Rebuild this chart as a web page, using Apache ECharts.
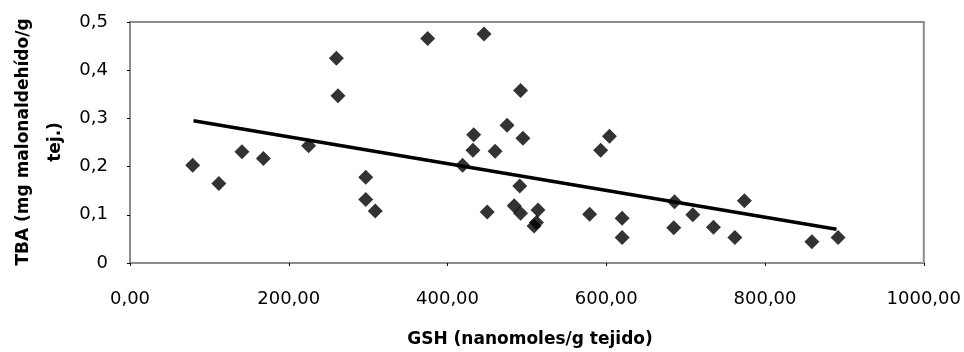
<!DOCTYPE html>
<html><head><meta charset="utf-8">
<script src="https://cdn.jsdelivr.net/npm/echarts@6/dist/echarts.min.js"></script>
<style>html,body{margin:0;padding:0;background:#fff}#c{width:964px;height:352px}</style>
</head><body><div id="c"></div>
<script>
// GSH (nanomoles/g tejido) values
var gsh = [79, 112, 141, 168, 225, 260, 262, 297, 297, 309,
  375, 446, 492, 475, 433, 495, 432, 460, 419, 491,
  450, 484, 492, 514, 512, 509, 579, 604, 593, 620,
  620, 686, 685, 709, 735, 762, 774, 859, 892];
// TBA (mg malonaldehído/g tej.) values
var tba = [0.203, 0.165, 0.231, 0.217, 0.243, 0.425, 0.347, 0.178, 0.132, 0.108,
  0.466, 0.475, 0.358, 0.286, 0.266, 0.259, 0.234, 0.232, 0.203, 0.160,
  0.106, 0.119, 0.103, 0.110, 0.084, 0.077, 0.101, 0.263, 0.234, 0.093,
  0.053, 0.127, 0.073, 0.100, 0.074, 0.053, 0.129, 0.044, 0.053];
// linear trend line end points
var trendX = [80, 890];
var trendY = [0.295, 0.070];
var xTicks = [0, 200, 400, 600, 800, 1000];
var yTicks = [0, 0.1, 0.2, 0.3, 0.4, 0.5];

var pts = gsh.map(function (g, i) { return [g, tba[i]]; });
var trend = trendX.map(function (g, i) { return [g, trendY[i]]; });
var FONT = 'DejaVu Sans';
var chart = echarts.init(document.getElementById('c'));
chart.setOption({
  animation: false,
  grid: { left: 130, right: 36, top: 22, bottom: 89, show: true, borderColor: '#8c8c8c', borderWidth: 2, backgroundColor: '#fff' },
  xAxis: {
    type: 'value', min: xTicks[0], max: xTicks[xTicks.length - 1], interval: 200,
    splitLine: { show: false }, axisLine: { show: false },
    axisTick: { show: true, length: 3, lineStyle: { color: '#000' } },
    axisLabel: { margin: 27, color: '#000', fontFamily: FONT, fontSize: 18,
      formatter: function (v) { return v.toFixed(2).replace('.', ','); } }
  },
  yAxis: {
    type: 'value', min: yTicks[0], max: yTicks[yTicks.length - 1], interval: 0.1,
    splitLine: { show: false }, axisLine: { show: false },
    axisTick: { show: true, length: 3, lineStyle: { color: '#000' } },
    axisLabel: { margin: 22, color: '#000', fontFamily: FONT, fontSize: 18,
      formatter: function (v) { return v === 0 ? '0' : v.toFixed(1).replace('.', ','); } }
  },
  graphic: [
    { type: 'text', x: 24, y: 142, rotation: Math.PI / 2,
      style: { text: 'TBA (mg malonaldehído/g', fontFamily: FONT, fontWeight: 'bold', fontSize: 17, fill: '#000', align: 'center', verticalAlign: 'middle' } },
    { type: 'text', x: 56, y: 142, rotation: Math.PI / 2,
      style: { text: 'tej.)', fontFamily: FONT, fontWeight: 'bold', fontSize: 17, fill: '#000', align: 'center', verticalAlign: 'middle' } },
    { type: 'text', x: 530, y: 340,
      style: { text: 'GSH (nanomoles/g tejido)', fontFamily: FONT, fontWeight: 'bold', fontSize: 17, fill: '#000', align: 'center', verticalAlign: 'middle' } }
  ],
  series: [
    { type: 'line', data: trend, symbol: 'none', lineStyle: { color: '#000', width: 3.5 }, z: 2 },
    { type: 'scatter', data: pts, symbol: 'diamond', symbolSize: 15, itemStyle: { color: '#000' }, z: 3 }
  ]
});
</script></body></html>
